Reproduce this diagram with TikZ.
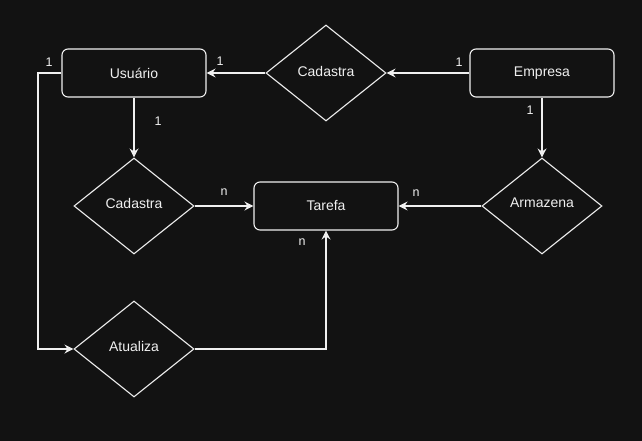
\documentclass[tikz,border=0pt]{standalone}
\usepackage{fontspec}
\setmainfont{Liberation Sans}
\usetikzlibrary{arrows.meta,shapes.geometric}
\definecolor{bg}{HTML}{121212}
\definecolor{fg}{HTML}{F0F0F0}
\begin{document}
\begin{tikzpicture}[x=1pt,y=-1pt,
  every path/.style={line width=1.1pt},
  entity/.style={draw=fg,rounded corners=6pt,minimum width=144pt,minimum height=48pt,text=fg,font=\fontsize{14}{16}\selectfont,inner sep=0pt},
  rel/.style={draw=fg,diamond,minimum width=120pt,minimum height=96pt,aspect=1.25,text=fg,font=\fontsize{14}{16}\selectfont,inner sep=0pt},
  lbl/.style={text=fg,font=\fontsize{14}{16}\selectfont},
  conn/.style={draw=fg,-{Stealth[length=9pt,width=9pt,inset=3pt]}},
  card/.style={text=fg,font=\fontsize{12.5}{14}\selectfont,inner sep=0pt}]
\fill[bg] (0,0) rectangle (642,441);
\useasboundingbox (0,0) rectangle (642,441);
\node[entity] (usuario) at (134,73) {Usuário};
\node[entity] (empresa) at (542,73) {Empresa};
\node[entity] (tarefa) at (326,206) {Tarefa};
\node[rel] (cad1) at (326,73) {};
\node[lbl] at (326,71) {Cadastra};
\node[rel] (cad2) at (134,206) {};
\node[lbl] at (134,203) {Cadastra};
\node[rel] (arm) at (542,206) {};
\node[lbl] at (542,203) {Armazena};
\node[rel] (atu) at (134,349) {};
\node[lbl] at (134,346) {Atualiza};
\coordinate (c1) at (38,73);
\coordinate (c2) at (38,349);
\coordinate (c3) at (326,349);
\draw[conn] (empresa.west) -- (cad1.east);
\draw[conn] (cad1.west) -- (usuario.east);
\draw[conn] (usuario.south) -- (cad2.north);
\draw[conn] (cad2.east) -- (tarefa.west);
\draw[conn] (empresa.south) -- (arm.north);
\draw[conn] (arm.west) -- (tarefa.east);
\draw[conn] (usuario.west) -- (c1) -- (c2) -- (atu.west);
\draw[conn] (atu.east) -- (c3) -- (tarefa.south);
\node[card] at (49,62) {1};
\node[card] at (220,61) {1};
\node[card] at (459,62) {1};
\node[card] at (158,121) {1};
\node[card] at (530,110) {1};
\node[card] at (224,192) {n};
\node[card] at (416,193) {n};
\node[card] at (302,242) {n};
\end{tikzpicture}
\end{document}
